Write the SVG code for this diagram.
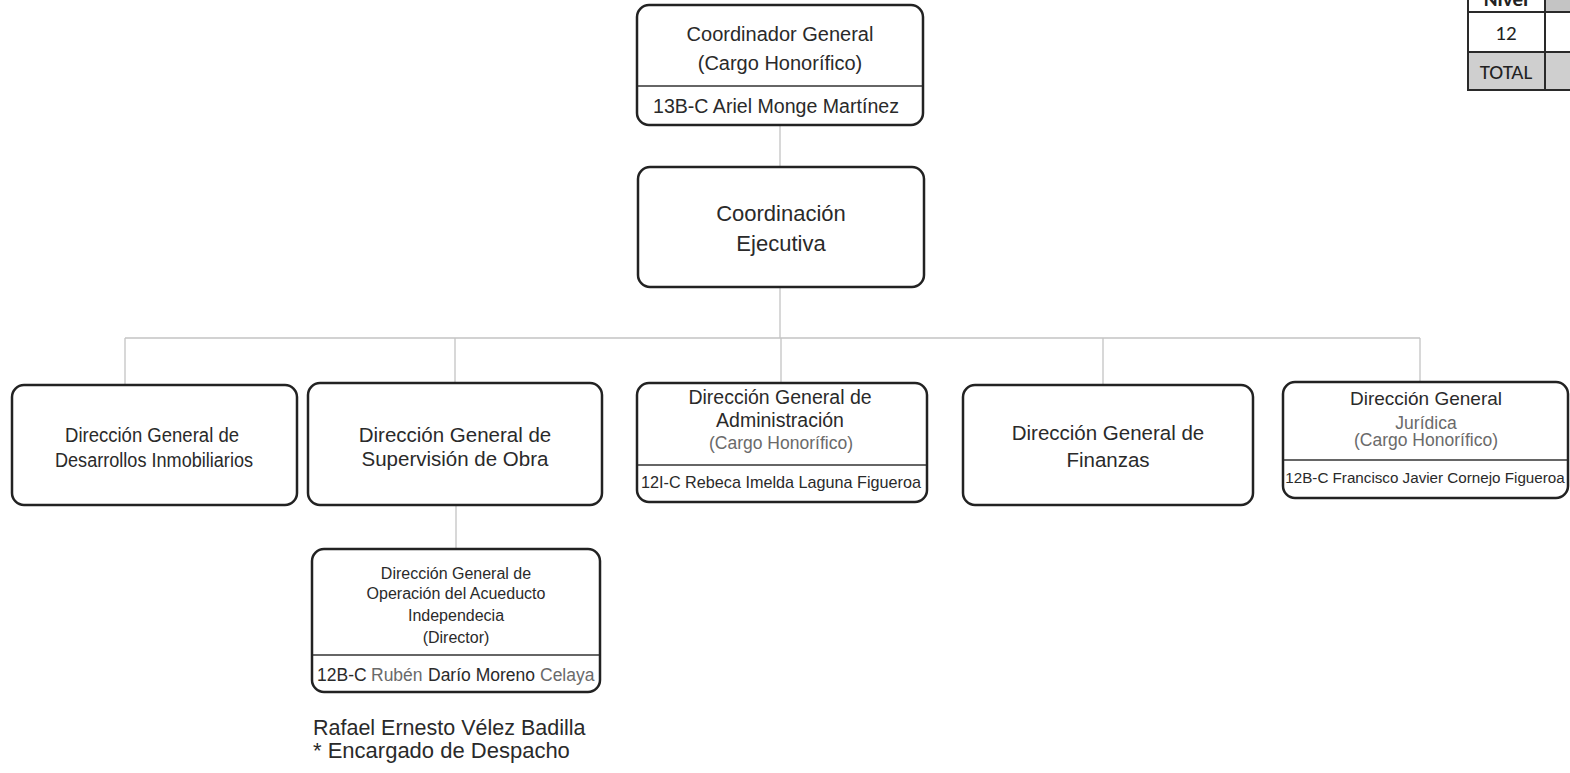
<svg xmlns="http://www.w3.org/2000/svg" width="1570" height="773" viewBox="0 0 1570 773">
<style>
.box{fill:#fff;stroke:#222;stroke-width:2.5}
.div{stroke:#333;stroke-width:1.5}
.con{stroke:#c4c4c4;stroke-width:1.3;fill:none}
text{font-family:"Liberation Sans",Arial,sans-serif;fill:#2a2a2a;text-anchor:middle}
.g{fill:#6a6a6a}
.s{text-anchor:start}
.tb{font-family:Carlito,Lato,"Liberation Sans",sans-serif;fill:#222}
.cell{stroke:#2a2a2a;stroke-width:2}
</style>
<rect width="1570" height="773" fill="#fff"/>
<g id="connectors">
<path class="con" d="M780 125V167M780 287V338M125 338H1420M125 338V385M455 338V383M781 338V383M1103 338V385M1420 338V382M456 505V549"/>
</g>
<g id="coordinador-general">
<rect class="box" x="637" y="5" width="286" height="120" rx="12"/>
<line class="div" x1="638" y1="86" x2="922" y2="86"/>
<text x="780" y="41" font-size="20">Coordinador General</text>
<text x="780" y="70" font-size="20">(Cargo Honorífico)</text>
<text x="776" y="113" font-size="19.5" textLength="246" lengthAdjust="spacingAndGlyphs">13B-C Ariel Monge Martínez</text>
</g>
<g id="coordinacion-ejecutiva">
<rect class="box" x="638" y="167" width="286" height="120" rx="12"/>
<text x="781" y="221" font-size="22">Coordinación</text>
<text x="781" y="251" font-size="22">Ejecutiva</text>
</g>
<g id="dg-desarrollos">
<rect class="box" x="12" y="385" width="285" height="120" rx="12"/>
<text x="152" y="442" font-size="20" textLength="174" lengthAdjust="spacingAndGlyphs">Dirección General de</text>
<text x="154" y="467" font-size="20" textLength="198" lengthAdjust="spacingAndGlyphs">Desarrollos Inmobiliarios</text>
</g>
<g id="dg-supervision">
<rect class="box" x="308" y="383" width="294" height="122" rx="12"/>
<text x="455" y="442" font-size="20.5">Dirección General de</text>
<text x="455" y="466" font-size="20.5">Supervisión de Obra</text>
</g>
<g id="dg-administracion">
<rect class="box" x="637" y="383" width="290" height="119" rx="12"/>
<text x="780" y="404" font-size="19.5">Dirección General de</text>
<text x="780" y="427" font-size="19.5">Administración</text>
<text class="g" x="781" y="449" font-size="17.5">(Cargo Honorífico)</text>
<line class="div" x1="638" y1="465" x2="926" y2="465"/>
<text x="781" y="488" font-size="17" textLength="280" lengthAdjust="spacingAndGlyphs">12I-C Rebeca Imelda Laguna Figueroa</text>
</g>
<g id="dg-finanzas">
<rect class="box" x="963" y="385" width="290" height="120" rx="12"/>
<text x="1108" y="440" font-size="20.5">Dirección General de</text>
<text x="1108" y="467" font-size="20.5">Finanzas</text>
</g>
<g id="dg-juridica">
<rect class="box" x="1283" y="382" width="285" height="116" rx="12"/>
<text x="1426" y="405" font-size="19">Dirección General</text>
<text class="g" x="1426" y="429" font-size="17.5">Jurídica</text>
<text class="g" x="1426" y="446" font-size="17.5">(Cargo Honorífico)</text>
<line class="div" x1="1284" y1="460" x2="1567" y2="460"/>
<text x="1425" y="483" font-size="15.2">12B-C Francisco Javier Cornejo Figueroa</text>
</g>
<g id="dg-acueducto">
<rect class="box" x="312" y="549" width="288" height="143" rx="12"/>
<text x="456" y="579" font-size="16">Dirección General de</text>
<text x="456" y="599" font-size="16">Operación del Acueducto</text>
<text x="456" y="621" font-size="16">Independecia</text>
<text x="456" y="643" font-size="16">(Director)</text>
<line class="div" x1="313" y1="655" x2="599" y2="655"/>
<text class="s" x="317" y="681" font-size="17.5">12B-C</text>
<text class="s g" x="371" y="681" font-size="17.5">Rubén</text>
<text class="s" x="428" y="681" font-size="17.5">Darío Moreno</text>
<text class="s g" x="540" y="681" font-size="17.5">Celaya</text>
</g>
<g id="encargado-nota">
<text class="s" x="313" y="735" font-size="21.5">Rafael Ernesto Vélez Badilla</text>
<text class="s" x="313" y="758" font-size="22">* Encargado de Despacho</text>
</g>
<g id="tabla-nivel">
<rect x="1545" y="-30" width="30" height="42" fill="#c4c4c4"/>
<rect x="1468" y="52" width="107" height="38" fill="#cfcfcf"/>
<path class="cell" fill="none" d="M1468 -5V90H1575M1468 12H1575M1468 52H1575M1545 -5V90"/>
<text class="tb" x="1506" y="6" font-size="21" font-weight="bold">Nivel</text>
<text class="tb" x="1506" y="40" font-size="21">12</text>
<text class="tb" x="1506" y="79" font-size="21">TOTAL</text>
</g>
</svg>
